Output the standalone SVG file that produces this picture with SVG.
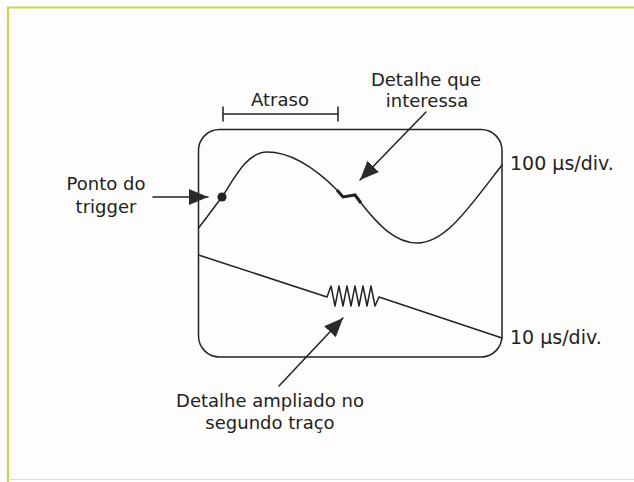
<svg xmlns="http://www.w3.org/2000/svg" width="634" height="482" viewBox="0 0 634 482">
<style>
.t{font-family:"DejaVu Sans",sans-serif;font-size:18px;fill:#222;text-anchor:middle}
.s{font-family:"DejaVu Sans",sans-serif;font-size:19px;fill:#222}
.ln{fill:none;stroke:#222;stroke-width:1.5;stroke-linejoin:round;stroke-linecap:round}
.bd{fill:none;stroke:#c6d94a;stroke-width:2.2}
</style>
<defs>
<marker id="ah" markerUnits="userSpaceOnUse" markerWidth="22" markerHeight="18" refX="19" refY="8" orient="auto">
<path d="M0,0 L19,8 L0,16 Z" fill="#2a2a2a"/>
</marker>
</defs>
<rect width="634" height="482" fill="#fefdfb"/>
<path class="bd" d="M8,482 L8,7.5 L634,7.5"/>
<path d="M8,479.5 L634,479.5" fill="none" stroke="#dfe8a8" stroke-width="1.2"/>
<g id="screen">
<rect x="198.5" y="129.5" width="303.5" height="227.5" rx="21" ry="21" class="ln"/>
</g>
<g id="trace1">
<path class="ln" d="M198.5,228 C208,216 215,206 222,197 C233,181 246,152 267,152 C292,152 315,168 337,190"/>
<path d="M337,190 L343,197 L355,195 L361,203" fill="none" stroke="#222" stroke-width="3" stroke-linejoin="miter"/>
<path class="ln" d="M361,203 C379,226 396,243 417,243 C446,243 470,206 502,165"/>
<circle cx="222" cy="197" r="4.6" fill="#222"/>
</g>
<g id="trace2">
<path class="ln" d="M198.5,255 L327,297 L331,286 L335,306 L339,286 L343,306 L347,286 L351,306 L355,286 L359,306 L363,286 L367,306 L371,286 L375,306 L379,297 L502,338"/>
</g>
<g id="atraso">
<path class="ln" d="M223,114 L338,114 M223,107 L223,121 M338,107 L338,121"/>
<text class="t" x="280" y="106">Atraso</text>
</g>
<g id="detalhe-interessa">
<text class="t" x="426" y="86">Detalhe que</text>
<text class="t" x="427" y="107">interessa</text>
</g>
<g id="ponto-trigger">
<text class="t" x="106" y="190">Ponto do</text>
<text class="t" x="106" y="213">trigger</text>
</g>
<g id="detalhe-ampliado">
<text class="t" x="270" y="407">Detalhe ampliado no</text>
<text class="t" x="270" y="429">segundo traço</text>
</g>
<g id="label-100">
<text class="s" x="510" y="170">100 µs/div.</text>
</g>
<g id="label-10">
<text class="s" x="510" y="344">10 µs/div.</text>
</g>
<g id="connectors">
<path class="ln" d="M153,197 L208,197" marker-end="url(#ah)"/>
<path class="ln" d="M426,112 L360,180" marker-end="url(#ah)"/>
<path class="ln" d="M279,386 L343,318" marker-end="url(#ah)"/>
</g>
</svg>
